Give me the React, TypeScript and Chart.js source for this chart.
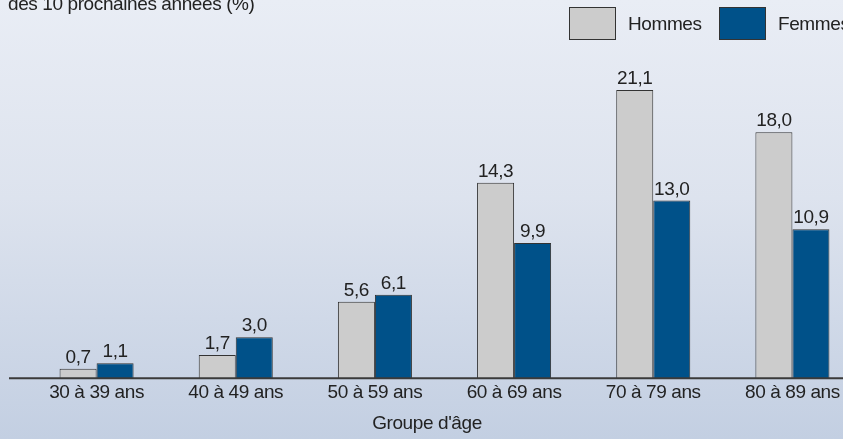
import React, { useEffect, useRef } from "react";
import { Chart, registerables } from "chart.js";
Chart.register(...registerables);

const categories = ["30 à 39 ans", "40 à 49 ans", "50 à 59 ans", "60 à 69 ans", "70 à 79 ans", "80 à 89 ans"];
const hommes = [0.7, 1.7, 5.6, 14.3, 21.1, 18.0];
const femmes = [1.1, 3.0, 6.1, 9.9, 13.0, 10.9];
const seriesNames = ["Hommes", "Femmes"];
const seriesColors = ["#cccccc", "#005189"];
const titleText = "des 10 prochaines années (%)";
const xAxisTitle = "Groupe d'âge";

const FONT = "'Liberation Sans', Arial, sans-serif";
const TEXT = "#222222";
const SPACING = "-0.4px";
const W = 862;
const H = 439;

const fmt = (v: number) => v.toFixed(1).replace(".", ",");

const spacing = {
  id: "spacing",
  beforeDraw(chart: any) {
    (chart.ctx as any).letterSpacing = SPACING;
  },
};

const decor = {
  id: "decor",
  afterDraw(chart: any) {
    const ctx = chart.ctx as CanvasRenderingContext2D;
    const y0 = chart.scales.y.getPixelForValue(0);
    ctx.save();
    (ctx as any).letterSpacing = SPACING;
    ctx.strokeStyle = "#3a3a3a";
    ctx.lineWidth = 2;
    ctx.beginPath();
    ctx.moveTo(9, y0);
    ctx.lineTo(chart.width, y0);
    ctx.stroke();

    ctx.font = `19px ${FONT}`;
    ctx.fillStyle = TEXT;
    ctx.textAlign = "center";
    ctx.textBaseline = "alphabetic";
    chart.data.datasets.forEach((ds: any, i: number) => {
      const meta = chart.getDatasetMeta(i);
      meta.data.forEach((bar: any, j: number) => {
        ctx.fillText(fmt(ds.data[j]), bar.x, bar.y - 6);
      });
    });

    ctx.textAlign = "left";
    ctx.fillText(titleText, 8, 10);

    ctx.textAlign = "center";
    ctx.fillText(xAxisTitle, 427, 429);

    // legend
    const boxes = [
      { x: 569, tx: 628 },
      { x: 719, tx: 778 },
    ];
    boxes.forEach((b, i) => {
      ctx.fillStyle = seriesColors[i];
      ctx.fillRect(b.x, 7, 46, 32);
      ctx.strokeStyle = "#333333";
      ctx.lineWidth = 1;
      ctx.strokeRect(b.x + 0.5, 7.5, 46, 32);
      ctx.fillStyle = TEXT;
      ctx.textAlign = "left";
      ctx.fillText(seriesNames[i], b.tx, 30);
    });
    ctx.restore();
  },
};

export default function App() {
  const ref = useRef<HTMLCanvasElement>(null);
  useEffect(() => {
    document.body.style.margin = "0";
    const chart = new Chart(ref.current!, {
      type: "bar",
      data: {
        labels: categories,
        datasets: [
          { label: seriesNames[0], data: hommes, backgroundColor: seriesColors[0], borderColor: "#333333", borderWidth: 1 },
          { label: seriesNames[1], data: femmes, backgroundColor: seriesColors[1], borderColor: "#333333", borderWidth: 1 },
        ],
      },
      options: {
        responsive: false,
        animation: false,
        devicePixelRatio: 1,
        layout: { padding: { left: 27, right: 0, top: 64, bottom: 32 } },
        datasets: { bar: { categoryPercentage: 0.532, barPercentage: 1 } },
        plugins: { legend: { display: false }, tooltip: { enabled: false }, title: { display: false } },
        scales: {
          x: {
            type: "category",
            offset: true,
            grid: { display: false, drawTicks: false },
            border: { display: false },
            ticks: { font: { size: 19, family: FONT }, color: TEXT, padding: 3, maxRotation: 0, autoSkip: false },
          },
          y: { display: false, min: 0, max: 23 },
        },
      },
      plugins: [spacing, decor],
    });
    return () => chart.destroy();
  }, []);
  return (
    <div
      style={{
        position: "fixed",
        left: 0,
        top: 0,
        width: 843,
        height: 439,
        overflow: "hidden",
        background: "linear-gradient(to bottom, #e9edf5 0%, #dde3ee 45%, #c3cfe2 100%)",
      }}
    >
      <canvas ref={ref} width={W} height={H} style={{ display: "block", width: W, height: H }} />
    </div>
  );
}
